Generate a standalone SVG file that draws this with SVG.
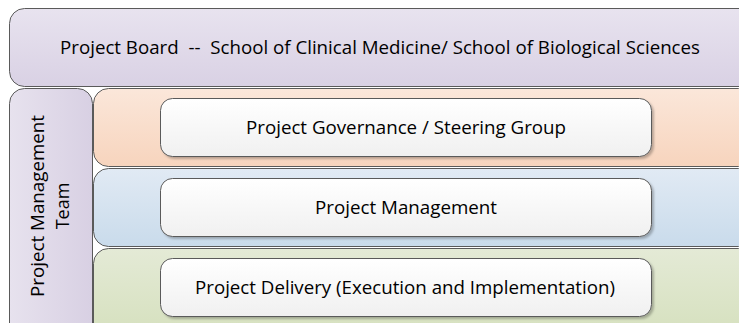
<svg xmlns="http://www.w3.org/2000/svg" width="739" height="323" viewBox="0 0 739 323">
  <style>
    .frame { stroke: #5a5a5a; stroke-width: 1; }
    .label { font-family: "Open Sans", "Liberation Sans", sans-serif; font-size: 18px; fill: #000; text-anchor: middle; white-space: pre; }
    .step { fill: url(#gWhite); stroke: #5a5a5a; stroke-width: 1; filter: url(#shadow); }
  </style>
  <defs>
    <linearGradient id="gLav" x1="0" y1="0" x2="0" y2="1">
      <stop offset="0" stop-color="#e8e3ef"/>
      <stop offset="1" stop-color="#d9d1e4"/>
    </linearGradient>
    <linearGradient id="gLavH" x1="0" y1="0" x2="1" y2="0">
      <stop offset="0" stop-color="#e7e2ee"/>
      <stop offset="1" stop-color="#d8d0e3"/>
    </linearGradient>
    <linearGradient id="gPeach" x1="0" y1="0" x2="0" y2="1">
      <stop offset="0" stop-color="#fbe7da"/>
      <stop offset="1" stop-color="#f7d4bd"/>
    </linearGradient>
    <linearGradient id="gBlue" x1="0" y1="0" x2="0" y2="1">
      <stop offset="0" stop-color="#e1eaf4"/>
      <stop offset="1" stop-color="#c9dbeb"/>
    </linearGradient>
    <linearGradient id="gGreen" x1="0" y1="0" x2="0" y2="1">
      <stop offset="0" stop-color="#e4ead6"/>
      <stop offset="1" stop-color="#d5e0bd"/>
    </linearGradient>
    <linearGradient id="gWhite" x1="0" y1="0" x2="0" y2="1">
      <stop offset="0" stop-color="#ffffff"/>
      <stop offset="1" stop-color="#f0f0f0"/>
    </linearGradient>
    <filter id="shadow" x="-5%" y="-10%" width="115%" height="130%">
      <feDropShadow dx="2" dy="2" stdDeviation="1.2" flood-color="#000" flood-opacity="0.25"/>
    </filter>
  </defs>

  <rect width="739" height="323" fill="#ffffff"/>

  <!-- project board banner -->
  <g id="board">
    <rect class="frame" x="9.5" y="8.5" width="745" height="78" rx="15" fill="url(#gLav)"/>
    <text class="label" x="380" y="54" textLength="640" lengthAdjust="spacingAndGlyphs">Project Board  --  School of Clinical Medicine/ School of Biological Sciences</text>
  </g>

  <!-- management team side column -->
  <g id="team">
    <rect class="frame" x="9.5" y="88.5" width="83" height="250" rx="15" fill="url(#gLavH)"/>
    <text class="label" transform="translate(44 206) rotate(-90)" textLength="182" lengthAdjust="spacingAndGlyphs">Project Management</text>
    <text class="label" transform="translate(69 206) rotate(-90)">Team</text>
  </g>

  <!-- tiers -->
  <g id="tier-governance">
    <rect class="frame" x="93.5" y="88.5" width="660" height="78" rx="15" fill="url(#gPeach)"/>
    <rect class="step" x="160.5" y="98.5" width="491" height="58" rx="12"/>
    <text class="label" x="406" y="134" textLength="320" lengthAdjust="spacingAndGlyphs">Project Governance / Steering Group</text>
  </g>
  <g id="tier-management">
    <rect class="frame" x="93.5" y="168.5" width="660" height="78" rx="15" fill="url(#gBlue)"/>
    <rect class="step" x="160.5" y="178.5" width="491" height="58" rx="12"/>
    <text class="label" x="406" y="214" textLength="182" lengthAdjust="spacingAndGlyphs">Project Management</text>
  </g>
  <g id="tier-delivery">
    <rect class="frame" x="93.5" y="248.5" width="660" height="90" rx="15" fill="url(#gGreen)"/>
    <rect class="step" x="160.5" y="258.5" width="491" height="58" rx="12"/>
    <text class="label" x="405" y="294" textLength="420" lengthAdjust="spacingAndGlyphs">Project Delivery (Execution and Implementation)</text>
  </g>

  <g id="connectors"/>
</svg>
